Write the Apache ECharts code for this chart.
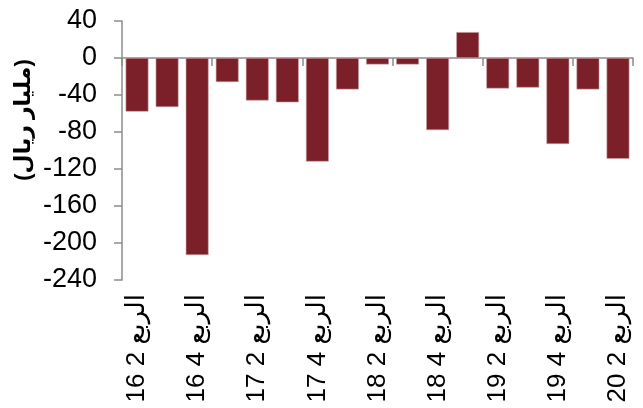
<!DOCTYPE html>
<html>
<head>
<meta charset="utf-8">
<script src="https://cdn.jsdelivr.net/npm/echarts@6/dist/echarts.min.js"></script>
<style>
html,body{margin:0;padding:0;background:#fff;}
#c{width:643px;height:408px;}
</style>
</head>
<body>
<div id="c"></div>
<script>
// Categories (quarters), written in visual order for LTR canvas
const categories = [
  '16 2 الربع','16 3 الربع','16 4 الربع',
  '17 1 الربع','17 2 الربع','17 3 الربع','17 4 الربع',
  '18 1 الربع','18 2 الربع','18 3 الربع','18 4 الربع',
  '19 1 الربع','19 2 الربع','19 3 الربع','19 4 الربع',
  '20 1 الربع','20 2 الربع'
];
const values = [-58, -53, -213, -26, -46, -48, -112, -34, -7, -7, -78, 28, -33, -32, -93, -34, -109];
const yAxisTitle = '(مليار ريال)';
const yMin = -240, yMax = 40, yStep = 40;

const chart = echarts.init(document.getElementById('c'), null, {renderer: 'canvas'});
const font = '"Liberation Sans", Arial, "DejaVu Sans", sans-serif';
chart.setOption({
  animation: false,
  grid: {left: 122, right: 10, top: 21, bottom: 128, containLabel: false},
  xAxis: [
    {
      type: 'category', data: categories, position: 'bottom',
      axisLine: {onZero: true, lineStyle: {color: '#8c8c8c', width: 1.5}},
      axisTick: {show: true, alignWithLabel: false, length: 8, lineStyle: {color: '#8c8c8c', width: 1.5}},
      axisLabel: {show: false},
      splitLine: {show: false}
    },
    {
      type: 'category', data: categories, position: 'bottom',
      axisLine: {show: false, onZero: false},
      axisTick: {show: false},
      axisLabel: {show: true, interval: 1, rotate: 90, margin: 14, fontSize: 26, color: '#000', fontFamily: font},
      splitLine: {show: false}
    }
  ],
  yAxis: {
    type: 'value', min: yMin, max: yMax, interval: yStep,
    axisLine: {show: true, lineStyle: {color: '#8c8c8c', width: 1.5}},
    axisTick: {show: true, length: 8, lineStyle: {color: '#8c8c8c', width: 1.5}},
    axisLabel: {fontSize: 27, color: '#000', fontFamily: font, margin: 25},
    splitLine: {show: false}
  },
  graphic: [{
    type: 'text', x: 24, y: 120, rotation: Math.PI / 2,
    style: {text: yAxisTitle, fontSize: 22, fontWeight: 'bold', fill: '#000', fontFamily: font,
      align: 'center', verticalAlign: 'middle'}
  }],
  series: [{
    type: 'bar', data: values, xAxisIndex: 0,
    barCategoryGap: '24%',
    itemStyle: {color: '#7B2028', borderColor: '#c9a3a7', borderWidth: 0.6}
  }]
});
</script>
</body>
</html>
